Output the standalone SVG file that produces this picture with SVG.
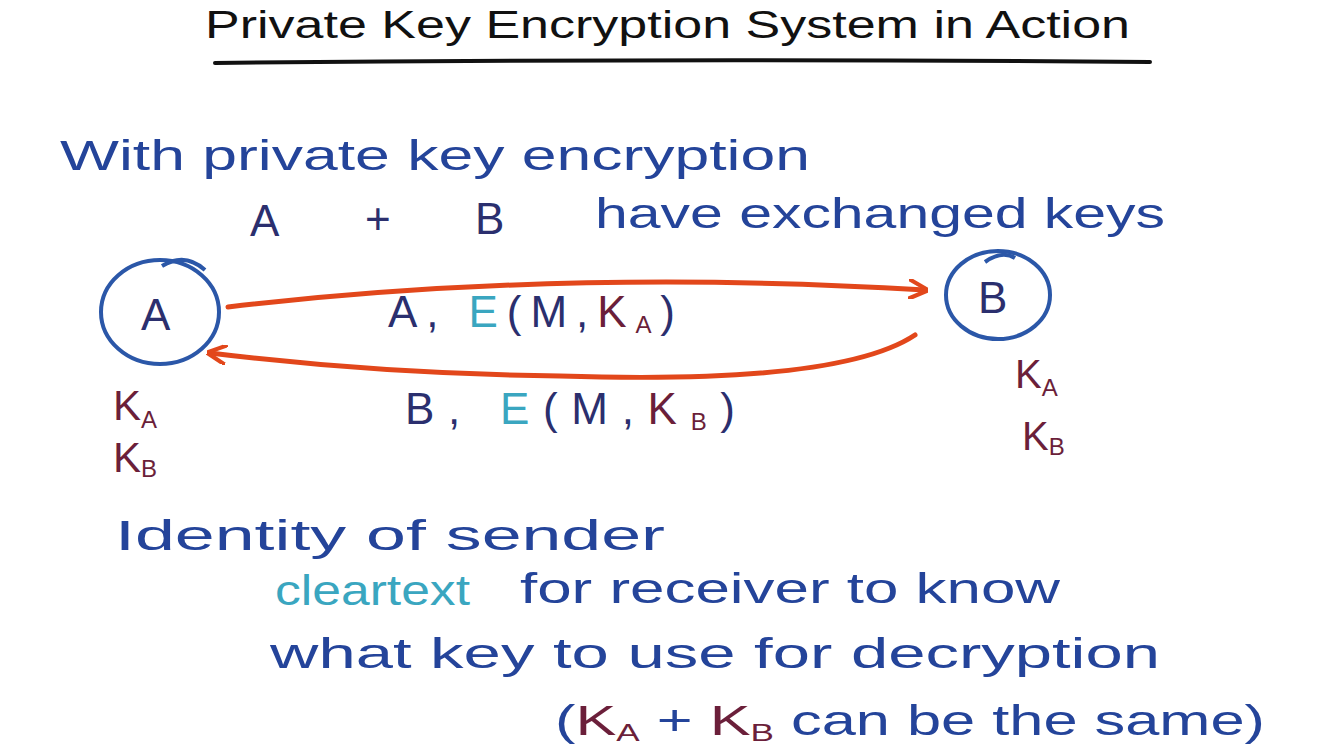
<svg xmlns="http://www.w3.org/2000/svg" width="1327" height="750" viewBox="0 0 1327 750">
<defs>
<style>
text{font-family:"Liberation Sans","DejaVu Sans",sans-serif;}
.t{fill:#111;font-size:38px;}
.b{fill:#24449a;font-size:42px;}
.n{fill:#2b2f6e;font-size:44px;}
.c{fill:#3aa6c0;}
.m{fill:#6b1f3a;}
.sub{font-size:24px;}
.node{fill:none;stroke:#2b57a8;stroke-width:4;}
.edge{fill:none;stroke:#e2471b;stroke-width:5;stroke-linecap:round;}
</style>
<marker id="ah" viewBox="0 0 12 12" refX="10" refY="6" markerWidth="4" markerHeight="4" orient="auto" markerUnits="strokeWidth">
<path d="M0,0 L12,6 L0,12" fill="none" stroke="#e2471b" stroke-width="2.5"/>
</marker>
</defs>
<rect width="1327" height="750" fill="#fff"/>
<g id="title">
<text class="t" x="205" y="38" textLength="925" lengthAdjust="spacingAndGlyphs">Private Key Encryption System in Action</text>
<path d="M215,63 Q680,58 1150,62" fill="none" stroke="#111" stroke-width="4" stroke-linecap="round"/>
</g>
<g id="intro">
<text class="b" x="60" y="170" textLength="750" lengthAdjust="spacingAndGlyphs">With private key encryption</text>
<text class="n" x="250" y="236">A</text>
<text class="n" x="365" y="234">+</text>
<text class="n" x="475" y="234">B</text>
<text class="b" x="595" y="228" textLength="570" lengthAdjust="spacingAndGlyphs">have exchanged keys</text>
</g>
<g id="nodeA">
<ellipse class="node" cx="160" cy="312" rx="59" ry="52"/>
<path class="node" d="M162,266 Q185,252 205,270"/>
<text class="n" x="141" y="330">A</text>
<text class="m" x="113" y="420" font-size="42">K<tspan class="sub" dy="8">A</tspan></text>
<text class="m" x="113" y="472" font-size="42">K<tspan class="sub" dy="5">B</tspan></text>
</g>
<g id="nodeB">
<ellipse class="node" cx="998" cy="295" rx="52" ry="44"/>
<path class="node" d="M985,262 Q1002,250 1015,258"/>
<text class="n" x="978" y="313">B</text>
<text class="m" x="1015" y="388" font-size="40">K<tspan class="sub" dy="8">A</tspan></text>
<text class="m" x="1022" y="450" font-size="40">K<tspan class="sub" dy="5">B</tspan></text>
</g>
<g id="connectors">
<path class="edge" d="M228,307 Q560,268 925,290" marker-end="url(#ah)"/>
<path class="edge" d="M915,335 Q840,385 560,376 Q380,374 210,353" marker-end="url(#ah)"/>
<text class="n" x="388" y="327" textLength="287" lengthAdjust="spacing">A, <tspan class="c">E</tspan>(M,<tspan class="m">K</tspan><tspan class="m sub" dy="6">A</tspan><tspan dy="-6">)</tspan></text>
<text class="n" x="405" y="424" textLength="330" lengthAdjust="spacing">B, <tspan class="c">E</tspan>(M,<tspan class="m">K</tspan><tspan class="m sub" dy="6">B</tspan><tspan dy="-6">)</tspan></text>
</g>
<g id="notes">
<text class="b" x="115" y="550" textLength="550" lengthAdjust="spacingAndGlyphs">Identity of sender</text>
<text class="b c" x="275" y="605" textLength="195" lengthAdjust="spacingAndGlyphs">cleartext</text>
<text class="b" x="520" y="603" textLength="540" lengthAdjust="spacingAndGlyphs">for receiver to know</text>
<text class="b" x="270" y="668" textLength="890" lengthAdjust="spacingAndGlyphs">what key to use for decryption</text>
<text class="b" x="555" y="735" textLength="710" lengthAdjust="spacingAndGlyphs">(<tspan class="m">K</tspan><tspan class="m sub" dy="6">A</tspan><tspan dy="-6"> + </tspan><tspan class="m">K</tspan><tspan class="m sub" dy="6">B</tspan><tspan dy="-6"> can be the same)</tspan></text>
</g>
</svg>
